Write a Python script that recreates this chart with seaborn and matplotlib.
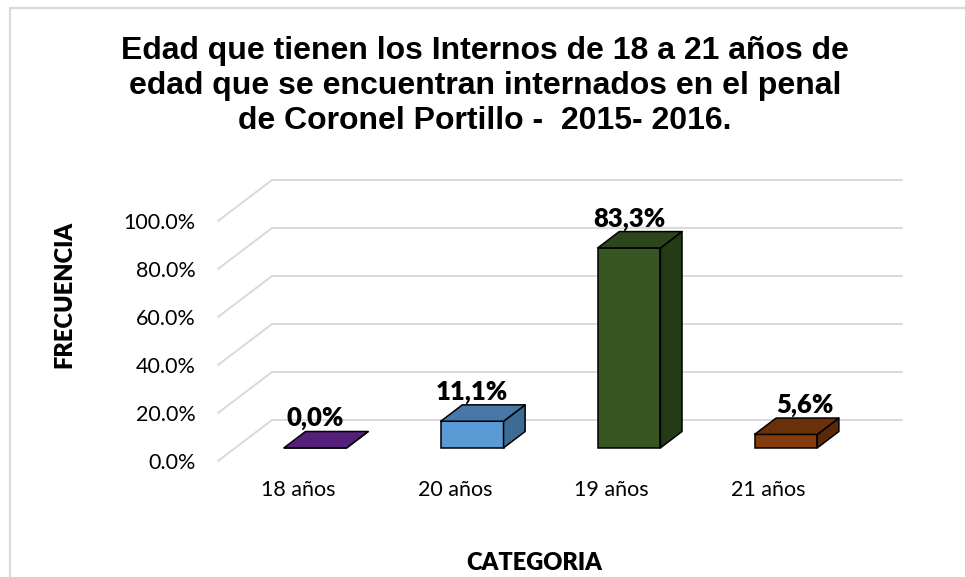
import seaborn as sns
import matplotlib.pyplot as plt
from matplotlib.patches import Polygon
from matplotlib.lines import Line2D

# data
categories = ["18 años", "20 años", "19 años", "21 años"]
values = [0.0, 11.1, 83.3, 5.6]
value_labels = ["0,0%", "11,1%", "83,3%", "5,6%"]
y_ticks = [0, 20, 40, 60, 80, 100]

front_colors = ["#5a2380", "#5b9bd5", "#375623", "#843c0c"]
top_colors = ["#542079", "#4677a6", "#2c451b", "#6a300a"]
side_colors = ["#4a1c6b", "#3e6a94", "#253a17", "#5c2908"]

title = ("Edad que tienen los Internos de 18 a 21 años de\n"
         "edad que se encuentran internados en el penal\n"
         "de Coronel Portillo -  2015- 2016.")

W, H = 965, 577
fig = plt.figure(figsize=(W / 100, H / 100), dpi=100)
sns.set_style("white")
plt.rcParams['font.family'] = ['Lato', 'DejaVu Sans']
plt.rcParams['text.color'] = 'black'

# axes box = front plane of the floor/left wall
ax = fig.add_axes([218 / W, 1 - 461 / H, 684 / W, 281 / H])

# oblique "3d" look: depth offsets in data units
depth_dx, depth_dy = 0.344, 17.08      # full wall depth
bar_z, bar_depth = 0.32, 0.40          # bars sit in the middle of the floor
grid_col = "#d9d9d9"

sns.barplot(x=categories, y=values, hue=categories, palette=front_colors,
            legend=False, width=0.40, edgecolor="black", linewidth=1.1,
            saturation=1, ax=ax)

ax.set_xlim(-0.51, 3.85)
ax.set_ylim(0, 117.08)
left = ax.get_xlim()[0]
right = ax.get_xlim()[1]

# walls: side-wall diagonals and back-wall lines
for v in y_ticks:
    ax.add_line(Line2D([left, left + depth_dx], [v, v + depth_dy],
                       color=grid_col, lw=1.4, zorder=0, clip_on=False))
    ax.add_line(Line2D([left + depth_dx, right], [v + depth_dy, v + depth_dy],
                       color=grid_col, lw=1.4, zorder=0, clip_on=False))

sx, sy = bar_z * depth_dx, bar_z * depth_dy
bdx, bdy = bar_depth * depth_dx, bar_depth * depth_dy
for i, p in enumerate(ax.patches[:len(values)]):
    p.set_x(p.get_x() + sx)
    p.set_y(sy)
    p.set_zorder(3)
    x0, x1 = p.get_x(), p.get_x() + p.get_width()
    y0, y1 = p.get_y(), p.get_y() + p.get_height()
    top = Polygon([(x0, y1), (x1, y1), (x1 + bdx, y1 + bdy), (x0 + bdx, y1 + bdy)],
                  closed=True, facecolor=top_colors[i], edgecolor="black",
                  lw=1.1, joinstyle="round", zorder=3)
    side = Polygon([(x1, y0), (x1 + bdx, y0 + bdy), (x1 + bdx, y1 + bdy), (x1, y1)],
                   closed=True, facecolor=side_colors[i], edgecolor="black",
                   lw=1.1, joinstyle="round", zorder=3)
    ax.add_patch(side)
    ax.add_patch(top)
    nudge = 0.12 if i == 3 else 0.0
    ax.text((x0 + x1) / 2 + nudge, y1 + bdy + 2.2, value_labels[i],
            ha="center", va="baseline", fontsize=18.5, fontweight="heavy",
            color="black", zorder=4)

ax.set_yticks(y_ticks)
ax.set_yticklabels([f"{v:.1f}%" for v in y_ticks])
ax.tick_params(axis="y", length=0, pad=16, labelsize=15.5, labelcolor="black")
ax.tick_params(axis="x", length=0, pad=14, labelsize=15.5, labelcolor="black")
ax.set_xlabel("")
ax.set_ylabel("")
for s in ax.spines.values():
    s.set_visible(False)
ax.patch.set_alpha(0)

fig.text(485 / W, 1 - 86 / H, title, ha="center", va="center", color="black",
         fontsize=23, fontweight="bold", family=["Liberation Sans", "DejaVu Sans"],
         linespacing=1.2)
fig.text(64 / W, 1 - 294 / H, "FRECUENCIA", rotation=90, ha="center",
         va="center", fontsize=17, fontweight="heavy", color="black")
fig.text(534 / W, 1 - 563 / H, "CATEGORIA", ha="center", va="center",
         fontsize=17, fontweight="heavy", color="black")

# chart area border (only top and left visible)
fig.add_artist(Line2D([10 / W, 10 / W], [0, 1 - 8 / H], transform=fig.transFigure,
                      color=grid_col, lw=1.6))
fig.add_artist(Line2D([10 / W, 1], [1 - 8 / H, 1 - 8 / H], transform=fig.transFigure,
                      color=grid_col, lw=1.6))

fig.savefig("out.png", dpi=100)
